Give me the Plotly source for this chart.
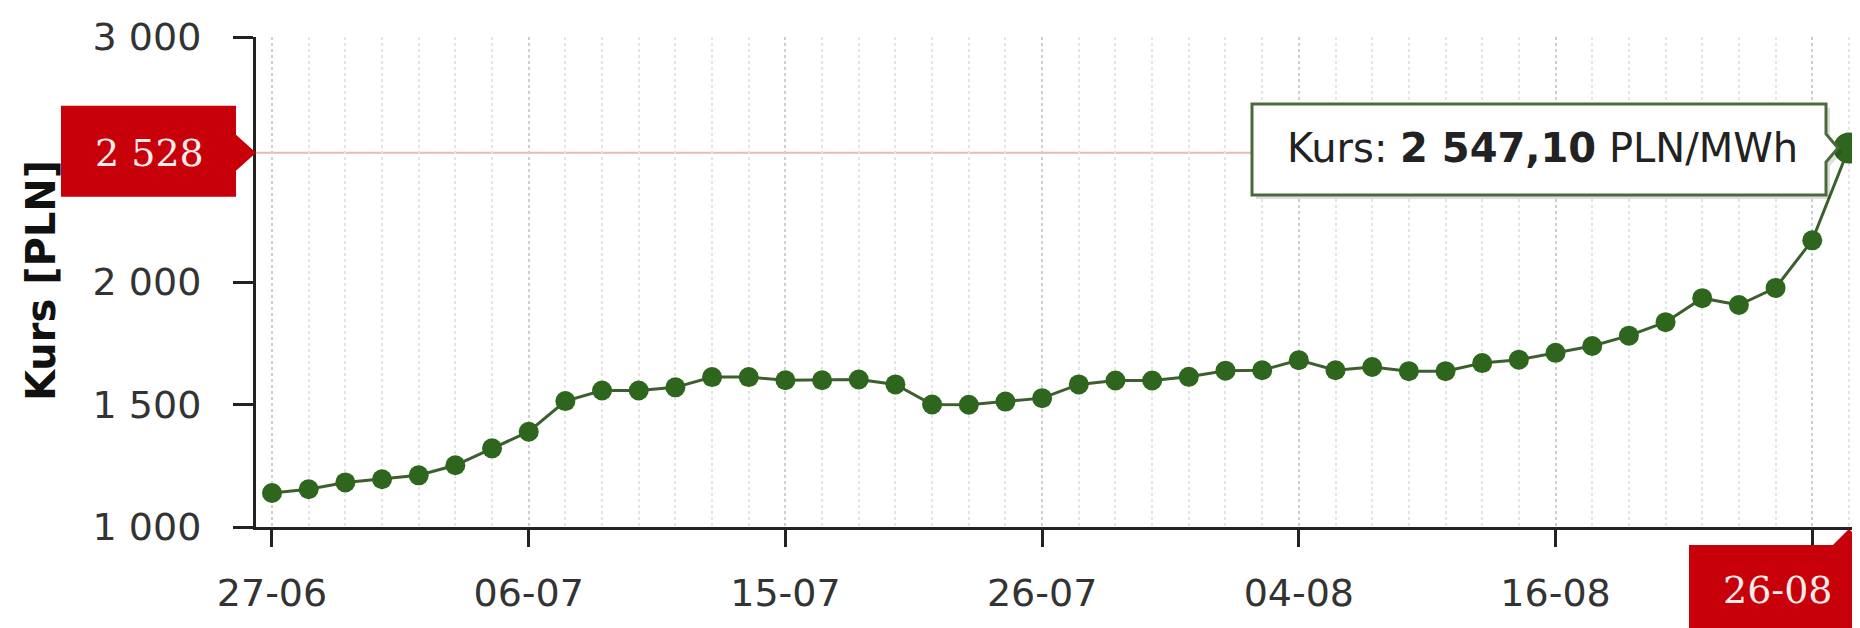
import plotly.graph_objects as go

# ---------------- data ----------------
dates = ["27-06", "28-06", "29-06", "30-06",
         "01-07", "04-07", "05-07", "06-07", "07-07", "08-07", "11-07", "12-07", "13-07", "14-07", "15-07",
         "18-07", "19-07", "20-07", "21-07", "22-07", "25-07", "26-07", "27-07", "28-07", "29-07",
         "01-08", "02-08", "03-08", "04-08", "05-08", "08-08", "09-08", "10-08", "11-08", "12-08",
         "16-08", "17-08", "18-08", "19-08", "22-08", "23-08", "24-08", "25-08", "26-08"]
prices = [1139, 1154, 1182, 1195, 1211, 1252, 1321, 1389, 1514, 1557, 1557, 1570, 1612, 1612,
          1599, 1599, 1602, 1582, 1500, 1499, 1512, 1526, 1582, 1598, 1598, 1613, 1638, 1640,
          1681, 1640, 1653, 1636, 1636, 1669, 1683, 1711, 1739, 1781, 1836, 1934, 1906, 1976,
          2170, 2547.10]
y_tick_values = [1000, 1500, 2000, 3000]
y_tick_labels = ["1 000", "1 500", "2 000", "3 000"]
x_tick_step = 7
cursor_value = 2528
y_title = "Kurs [PLN]"
tooltip_label = "Kurs:"
unit = "PLN/MWh"

# ---------------- layout constants ----------------
W, H = 1860, 628
L, R, T, B = 248, 0, 29, 109
PW, PH = W - L - R, H - T - B
YMIN, YMAX = 1000, 3000
XMIN, XMAX = -0.436, 43.52

n = len(dates)
idx = list(range(n))
x_tick_idx = list(range(0, n, x_tick_step))
# the label under the red cursor box is hidden by it
x_tick_labels = [dates[i] if (n - 1 - i) > 2 else "" for i in x_tick_idx]


def fx(px):
    return (px - L) / PW


def fy(py):
    return (H - B - py) / PH


def ypx(v):
    return (H - B) - (v - YMIN) / (YMAX - YMIN) * PH


def xpx(i):
    return L + (i - XMIN) / (XMAX - XMIN) * PW


def path(points):
    return "M " + " L ".join(f"{fx(a):.5f},{fy(b):.5f}" for a, b in points) + " Z"


def pl(v):
    s = f"{v:,.2f}"
    return s.replace(",", " ").replace(".", ",")


GREEN_M = "#2d661c"
GREEN_L = "#3d5f30"
RED = "#c8000a"

fig = go.Figure()
fig.add_trace(go.Scatter(
    x=idx, y=prices, mode="lines+markers",
    line=dict(color=GREEN_L, width=3),
    marker=dict(color=GREEN_M, size=[20] * (n - 1) + [31], opacity=1, line=dict(width=0)),
    hoverinfo="skip", showlegend=False,
))

shapes = []
# crosshair horizontal line
shapes.append(dict(type="line", xref="x", yref="y", x0=XMIN, x1=idx[-1], y0=cursor_value, y1=cursor_value,
                   line=dict(color="#ebb9b9", width=2), layer="below"))

# red y label with pointer
ty = ypx(cursor_value)
shapes.append(dict(type="path", xref="paper", yref="paper", layer="above",
                   path=path([(53, ty - 47), (228, ty - 47), (228, ty - 18), (248, ty), (228, ty + 18),
                              (228, ty + 44), (53, ty + 44)]),
                   fillcolor=RED, line=dict(width=0)))

# red x label with pointer
tx = xpx(idx[-1])
shapes.append(dict(type="path", xref="paper", yref="paper", layer="above",
                   path=path([(1681, 537), (tx - 16, 537), (tx, 521), (tx + 16, 537), (tx + 16, 660), (1681, 660)]),
                   fillcolor=RED, line=dict(width=0)))

# tooltip
py_last = ypx(prices[-1])
tip = [(1244, 96), (1818, 96), (1818, py_last - 14), (1830, py_last), (1818, py_last + 14), (1818, 187), (1244, 187)]
shapes.append(dict(type="path", xref="paper", yref="paper", layer="above",
                   path=path([(a + 4, b + 4) for a, b in tip]),
                   fillcolor="rgba(0,0,0,0.13)", line=dict(width=0)))
shapes.append(dict(type="path", xref="paper", yref="paper", layer="above",
                   path=path(tip), fillcolor="white", line=dict(color="#4a6a3c", width=3)))

annotations = [
    dict(xref="paper", yref="paper", x=fx(141), y=fy(ty), text=pl(cursor_value).split(",")[0],
         showarrow=False, xanchor="center", yanchor="middle",
         font=dict(family="DejaVu Serif", size=38, color="#fbecec")),
    dict(xref="paper", yref="paper", x=fx(1770), y=fy(582), text=dates[-1],
         showarrow=False, xanchor="center", yanchor="middle",
         font=dict(family="DejaVu Serif", size=38, color="#fbecec")),
    dict(xref="paper", yref="paper", x=fx(1534), y=fy(py_last),
         text=f"{tooltip_label} <b>{pl(prices[-1])}</b> {unit}",
         showarrow=False, xanchor="center", yanchor="middle",
         font=dict(family="DejaVu Sans", size=40, color="#222222")),
    dict(xref="paper", yref="paper", x=fx(33), y=fy(272), text=f"<b>{y_title}</b>", textangle=-90,
         showarrow=False, xanchor="center", yanchor="middle",
         font=dict(family="DejaVu Sans", size=40, color="#111111")),
]

fig.update_layout(
    width=W, height=H,
    margin=dict(l=L, r=R, t=T, b=B, pad=0),
    paper_bgcolor="white", plot_bgcolor="white",
    shapes=shapes, annotations=annotations,
    xaxis=dict(range=[XMIN, XMAX], tickmode="array", tickvals=x_tick_idx, ticktext=x_tick_labels,
               showline=True, linecolor="#222222", linewidth=3,
               ticks="outside", ticklen=17, tickwidth=3, tickcolor="#222222",
               tickfont=dict(family="DejaVu Sans", size=38, color="#333333"),
               ticklabelstandoff=13,
               showgrid=True, gridcolor="#cfcfcf", gridwidth=2, griddash="dot",
               minor=dict(tickmode="array", tickvals=idx, showgrid=True, gridcolor="#e4e4e4",
                          gridwidth=2, griddash="dot", ticks=""),
               zeroline=False, fixedrange=True),
    yaxis=dict(range=[YMIN, YMAX], tickmode="array", tickvals=y_tick_values, ticktext=y_tick_labels,
               showline=True, linecolor="#222222", linewidth=3,
               ticks="outside", ticklen=20, tickwidth=3, tickcolor="#222222",
               tickfont=dict(family="DejaVu Sans", size=38, color="#333333"),
               ticklabelstandoff=24,
               showgrid=False, zeroline=False, fixedrange=True),
)

fig.write_html("out.html")
